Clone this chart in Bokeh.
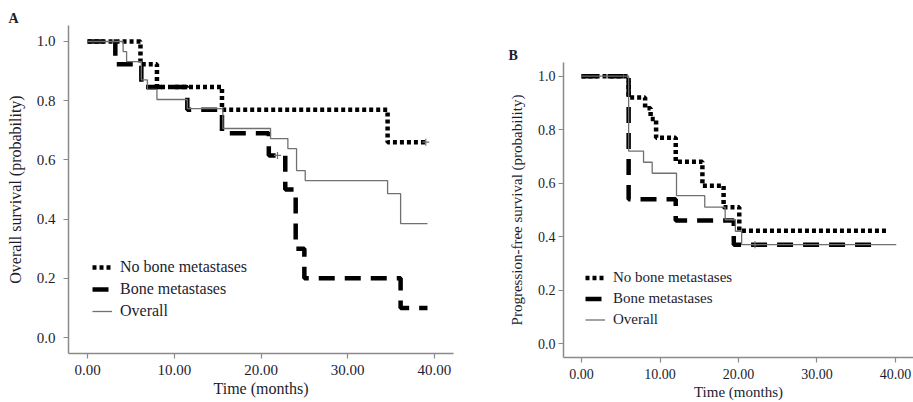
from bokeh.plotting import figure
from bokeh.layouts import row, column
from bokeh.models import Range1d, FixedTicker, Legend, LegendItem, Title
from bokeh.embed import file_html
from bokeh.resources import INLINE

# ---------------- data ----------------
# Panel A: overall survival
a_nobone_t = [0, 6.1, 8.0, 15.5, 34.6, 39.0]
a_nobone_s = [1.0, 0.923, 0.846, 0.769, 0.66, 0.66]
a_bone_t = [0, 3.2, 6.2, 11.5, 15.5, 20.9, 22.8, 24.0, 25.0, 36.1, 39.2]
a_bone_s = [1.0, 0.923, 0.846, 0.769, 0.69, 0.615, 0.5, 0.3, 0.2, 0.1, 0.1]
a_all_t = [0, 4.1, 4.5, 6.2, 6.9, 8.0, 11.5, 15.6, 21.1, 23.1, 24.1, 25.1, 34.6, 36.1, 39.2]
a_all_s = [1.0, 0.966, 0.932, 0.87, 0.838, 0.804, 0.773, 0.706, 0.672, 0.638, 0.564, 0.53, 0.486, 0.385, 0.385]
a_cens_t = [39.0, 21.9]
a_cens_s = [0.66, 0.615]

# Panel B: progression-free survival
b_nobone_t = [0, 6.0, 8.1, 8.8, 9.5, 12.0, 15.4, 18.1, 20.1, 39.1]
b_nobone_s = [1.0, 0.92, 0.88, 0.84, 0.77, 0.68, 0.59, 0.51, 0.422, 0.422]
b_bone_t = [0, 6.0, 12.0, 19.4, 38.0]
b_bone_s = [1.0, 0.54, 0.46, 0.37, 0.37]
b_all_t = [0, 6.0, 7.9, 9.0, 12.1, 15.7, 18.3, 19.6, 20.4, 40.1]
b_all_s = [1.0, 0.72, 0.678, 0.637, 0.553, 0.51, 0.463, 0.42, 0.37, 0.37]
b_cens_t = [22.1]
b_cens_s = [0.37]

x_ticks = [0, 10, 20, 30, 40]
x_tick_labels = ["0.00", "10.00", "20.00", "30.00", "40.00"]
y_ticks = [0.0, 0.2, 0.4, 0.6, 0.8, 1.0]
y_tick_labels = ["0.0", "0.2", "0.4", "0.6", "0.8", "1.0"]
series_labels = ["No bone metastases", "Bone metastases", "Overall"]

FONT = "Liberation Serif"
AXIS_COLOR = "#8a8a8a"
TEXT_COLOR = "#1c1c30"
GRAY = "#707070"


def make_panel(width, xr, yr, borders, ylabel, tick_size, label_size, leg_size,
               nob, bone, allc, cens, leg_loc, leg_h, panel_letter, letter_offset):
    p = figure(width=width, height=402, output_backend="svg", toolbar_location=None,
               x_range=Range1d(*xr), y_range=Range1d(*yr),
               min_border_left=borders[0], min_border_right=borders[1],
               min_border_top=borders[2], min_border_bottom=borders[3])
    p.outline_line_color = None
    p.xgrid.visible = False
    p.ygrid.visible = False
    p.background_fill_color = "white"
    p.border_fill_color = "white"

    p.title = Title(text=panel_letter, align="left", offset=letter_offset, standoff=0,
                    text_font=FONT, text_font_style="bold", text_font_size="14px",
                    text_color=TEXT_COLOR)

    r1 = p.step(nob[0], nob[1], mode="after", line_color="black", line_width=4.5,
                line_dash="4 3")
    r2 = p.step(bone[0], bone[1], mode="after", line_color="black", line_width=4.5,
                line_dash="16 10")
    r3 = p.step(allc[0], allc[1], mode="after", line_color=GRAY, line_width=1.3)
    p.scatter(cens[0], cens[1], marker="cross", size=7, line_color=GRAY, line_width=1.2)

    for ax in (p.xaxis[0], p.yaxis[0]):
        ax.axis_line_color = AXIS_COLOR
        ax.axis_line_width = 1.5
        ax.major_tick_line_color = AXIS_COLOR
        ax.major_tick_line_width = 1.2
        ax.major_tick_out = 5
        ax.major_tick_in = 0
        ax.minor_tick_line_color = None
        ax.major_label_text_font = FONT
        ax.major_label_text_font_size = tick_size
        ax.major_label_text_color = TEXT_COLOR
        ax.axis_label_text_font = FONT
        ax.axis_label_text_font_size = label_size
        ax.axis_label_text_font_style = "normal"
        ax.axis_label_text_color = TEXT_COLOR

    p.xaxis.ticker = FixedTicker(ticks=x_ticks)
    p.xaxis.major_label_overrides = {t: l for t, l in zip(x_ticks, x_tick_labels)}
    p.yaxis.ticker = FixedTicker(ticks=y_ticks)
    p.yaxis.major_label_overrides = {t: l for t, l in zip(y_ticks, y_tick_labels)}
    p.xaxis.axis_label = "Time (months)"
    p.yaxis.axis_label = ylabel
    p.xaxis.major_label_standoff = 6
    p.xaxis.axis_label_standoff = 2
    p.yaxis.major_label_standoff = 8
    p.yaxis.axis_label_standoff = 10

    legend = Legend(items=[LegendItem(label=series_labels[0], renderers=[r1]),
                           LegendItem(label=series_labels[1], renderers=[r2]),
                           LegendItem(label=series_labels[2], renderers=[r3])],
                    location=leg_loc, orientation="vertical")
    legend.background_fill_alpha = 0
    legend.border_line_color = None
    legend.padding = 0
    legend.margin = 0
    legend.spacing = 2
    legend.glyph_width = 20
    legend.glyph_height = leg_h
    legend.label_height = leg_h
    legend.label_standoff = 8
    legend.label_text_font = FONT
    legend.label_text_font_size = leg_size
    legend.label_text_color = TEXT_COLOR
    p.add_layout(legend, "center")
    return p


pA = make_panel(460, (-2.2, 42.2), (-0.054, 1.054), (68, 7, 25, 49),
                "Overall survival (probability)", "15px", "16px", "16px",
                (a_nobone_t, a_nobone_s), (a_bone_t, a_bone_s), (a_all_t, a_all_s),
                (a_cens_t, a_cens_s), (24, 32), 20, "A", -60)
pB = make_panel(453, (-2.3, 42.3), (-0.052, 1.051), (103, 0, 62, 45),
                "Progression-free survival (probability)", "14px", "15px", "15px",
                (b_nobone_t, b_nobone_s), (b_bone_t, b_bone_s), (b_all_t, b_all_s),
                (b_cens_t, b_cens_s), (22, 28), 19, "B", -55)
pB.yaxis.major_label_standoff = 3

layout = row(column(pA), column(pB))
open("out.html", "w").write(file_html(layout, INLINE))
